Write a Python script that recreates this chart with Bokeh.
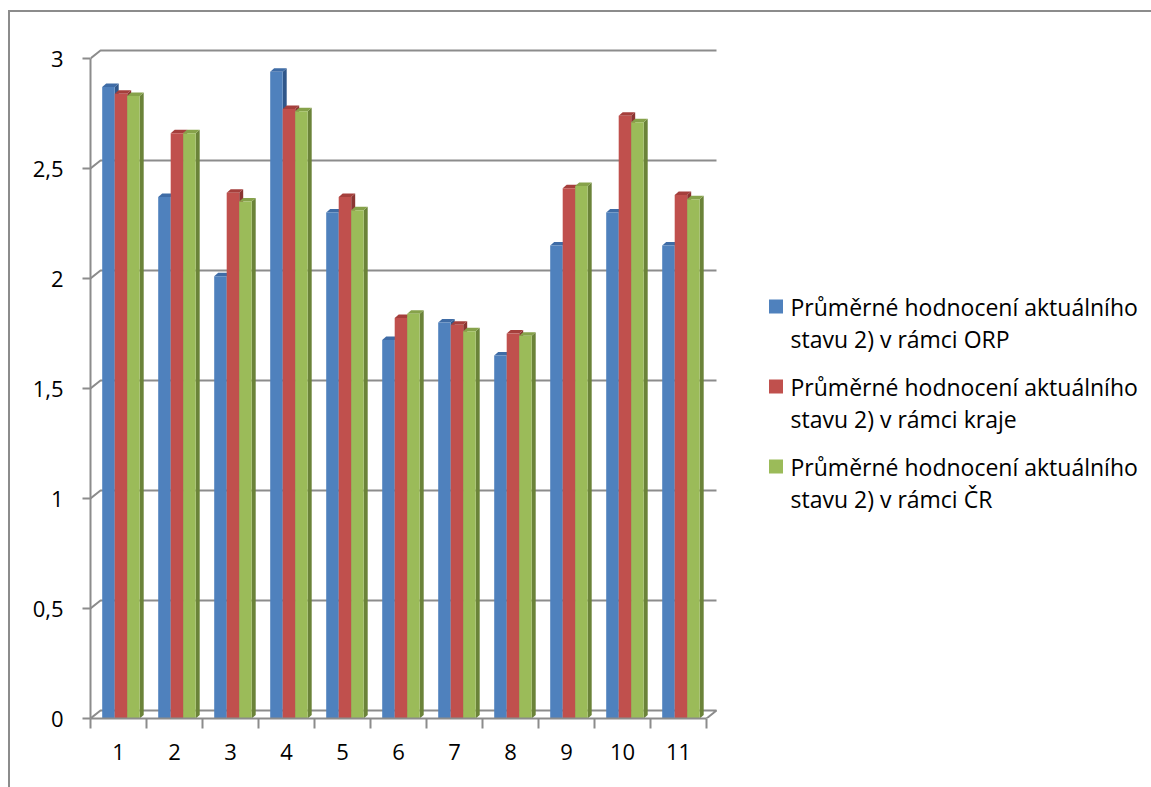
from bokeh.plotting import figure
from bokeh.models import Range1d, FixedTicker
from bokeh.layouts import row
from bokeh.core.properties import value
from bokeh.embed import file_html
from bokeh.resources import INLINE

# ---- data ----
categories = ["1", "2", "3", "4", "5", "6", "7", "8", "9", "10", "11"]
orp = [2.87, 2.37, 2.01, 2.94, 2.30, 1.72, 1.80, 1.65, 2.15, 2.30, 2.15]
kraj = [2.84, 2.66, 2.39, 2.77, 2.37, 1.82, 1.79, 1.75, 2.41, 2.74, 2.38]
cr = [2.83, 2.66, 2.35, 2.76, 2.31, 1.84, 1.76, 1.74, 2.42, 2.71, 2.36]
legend_line1 = ["Průměrné hodnocení aktuálního"] * 3
legend_line2 = ["stavu 2) v rámci ORP", "stavu 2) v rámci kraje", "stavu 2) v rámci ČR"]
y_tick_values = [0, 0.5, 1, 1.5, 2, 2.5, 3]
y_tick_labels = ["0", "0,5", "1", "1,5", "2", "2,5", "3"]

# ---- styling ----
FONT = "Open Sans"
FONT_SIZE = "22px"
LEGEND_FONT_SIZE = "23px"
GRAY = "#8c8c8c"
front_colors = ["#4F81BD", "#C0504D", "#9BBB59"]
top_colors = ["#3F6CA6", "#A53F3C", "#86A24A"]
side_colors = ["#30578A", "#8A3532", "#6B8339"]

# page geometry (canvas origin at page (10, 12))
OX, OY = 10, 12
TOTAL_W, TOTAL_H = 1141, 775
MAIN_W = 740

n = len(categories)
PX_X = 56.0     # pixels per category
PX_Y = 220.0    # pixels per value unit
FRAME_W = int(n * PX_X + 12)
FRAME_H = 670
WDX, WDY = 10 / PX_X, 8 / PX_Y      # back wall depth
BDX, BDY = 4 / PX_X, 3.5 / PX_Y     # bar depth
BW = 12.5 / PX_X                     # bar width
G0 = -16.3 / PX_X                    # group left offset from category centre

BL, BT = 90 - OX, 48 - OY
BB = TOTAL_H - BT - FRAME_H
p = figure(
    width=MAIN_W, height=TOTAL_H,
    min_border_left=BL, min_border_top=BT,
    min_border_right=MAIN_W - BL - FRAME_W, min_border_bottom=BB,
    x_range=Range1d(0.5, 0.5 + FRAME_W / PX_X),
    y_range=Range1d(0, FRAME_H / PX_Y),
    output_backend="svg", toolbar_location=None,
)
p.outline_line_color = None
p.xgrid.visible = False
p.ygrid.visible = False
p.background_fill_color = "white"
p.border_fill_color = "white"

# ---- back wall gridlines & floor ----
xl, xr = 0.5, n + 0.5
gx, gy = [], []
for v in y_tick_values:
    if v == 0:
        gx.append([xl, xl + WDX, xr + WDX, xr])
        gy.append([0, WDY, WDY, 0])
    else:
        gx.append([xl, xl + WDX, xr + WDX])
        gy.append([v, v + WDY, v + WDY])
p.multi_line(gx, gy, line_color=GRAY, line_width=2)

# ---- 3D bars ----
for s, vals in enumerate([orp, kraj, cr]):
    sx, sy, tx, ty = [], [], [], []
    lefts, rights = [], []
    for i, v in enumerate(vals):
        c = i + 1
        x0 = c + G0 + s * BW
        x1 = x0 + BW
        lefts.append(x0)
        rights.append(x1)
        sx.append([x1, x1 + BDX, x1 + BDX, x1])
        sy.append([0, BDY, v + BDY, v])
        tx.append([x0, x1, x1 + BDX, x0 + BDX])
        ty.append([v, v, v + BDY, v + BDY])
    p.patches(sx, sy, fill_color=side_colors[s], line_color=None)
    p.patches(tx, ty, fill_color=top_colors[s], line_color=None)
    p.quad(left=lefts, right=rights, bottom=[0] * n, top=vals,
           fill_color=front_colors[s], line_color=None)

# ---- axes ----
ya = p.yaxis[0]
ya.ticker = FixedTicker(ticks=y_tick_values)
ya.major_label_overrides = {v: l for v, l in zip(y_tick_values, y_tick_labels)}
ya.bounds = (0, 3)
ya.axis_line_color = GRAY
ya.axis_line_width = 2
ya.major_tick_line_color = GRAY
ya.major_tick_line_width = 2
ya.major_tick_out = 8
ya.major_tick_in = 0
ya.minor_tick_line_color = None
ya.major_label_standoff = 19
ya.major_label_text_font = FONT
ya.major_label_text_font_size = FONT_SIZE
ya.major_label_text_color = "black"

xa = p.xaxis[0]
xa.ticker = FixedTicker(ticks=list(range(1, n + 1)),
                        minor_ticks=[i + 0.5 for i in range(0, n + 1)])
xa.major_label_overrides = {i + 1: c for i, c in enumerate(categories)}
xa.bounds = (0.5, n + 0.5)
xa.axis_line_color = GRAY
xa.axis_line_width = 2
xa.major_tick_line_color = None
xa.major_tick_out = 10
xa.major_tick_in = 0
xa.minor_tick_line_color = GRAY
xa.minor_tick_line_width = 2
xa.minor_tick_out = 10
xa.minor_tick_in = 0
xa.major_label_standoff = 15
xa.major_label_text_font = FONT
xa.major_label_text_font_size = FONT_SIZE
xa.major_label_text_color = "black"

# ---- legend panel (page-pixel coordinates; frame aligned with main frame) ----
LX0 = OX + MAIN_W
FT, FB = OY + BT, OY + BT + FRAME_H
lg = figure(
    width=TOTAL_W - MAIN_W, height=TOTAL_H,
    x_range=Range1d(LX0, OX + TOTAL_W), y_range=Range1d(FB, FT),
    x_axis_location=None, y_axis_location=None,
    min_border_left=0, min_border_right=0,
    min_border_top=BT, min_border_bottom=BB,
    output_backend="svg", toolbar_location=None,
)
lg.outline_line_color = None
lg.xgrid.visible = False
lg.ygrid.visible = False

ENTRY_Y = [306, 386, 466]
LINE_GAP = 32
SQ = 14
SQ_CX = 775.5
TEXT_X = 790
lg.quad(left=[SQ_CX - SQ / 2] * 3, right=[SQ_CX + SQ / 2] * 3,
        top=[y - SQ / 2 for y in ENTRY_Y], bottom=[y + SQ / 2 for y in ENTRY_Y],
        fill_color=front_colors, line_color=None)
lg.text(x=[TEXT_X] * 6,
        y=ENTRY_Y + [y + LINE_GAP for y in ENTRY_Y],
        text=legend_line1 + legend_line2,
        text_baseline="middle", text_align="left",
        text_font=value(FONT), text_font_size=LEGEND_FONT_SIZE, text_color="black")

layout = row(p, lg, margin=(OY - 2, 0, 0, OX - 2),
             styles={"border-left": "2px solid #8c8c8c", "border-top": "2px solid #8c8c8c"})

open("out.html", "w").write(file_html(layout, INLINE))
